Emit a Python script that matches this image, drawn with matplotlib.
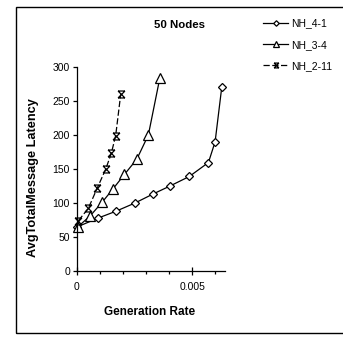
import matplotlib
matplotlib.use("Agg")
from matplotlib import pyplot as plt
from matplotlib.path import Path
from matplotlib.patches import Rectangle
from matplotlib.ticker import MultipleLocator, FuncFormatter

plt.rcParams["font.family"] = ["Liberation Sans", "DejaVu Sans"]

# data
rate_41 = [0.00002, 0.0009, 0.0017, 0.00252, 0.00329, 0.00404, 0.00488, 0.00571, 0.0060, 0.00629]
lat_41 = [65, 77.6, 88, 100, 113, 125, 139, 159.5, 190, 270.5]

rate_34 = [0.00004, 0.00057, 0.00109, 0.00157, 0.00206, 0.0026, 0.0031, 0.0036]
lat_34 = [65, 81, 101, 121, 142, 164.5, 200, 284]

rate_211 = [0.00006, 0.00049, 0.00088, 0.00125, 0.00149, 0.00168, 0.0019]
lat_211 = [74, 92, 122, 150, 173, 199, 260]

series_names = ["NH_4-1", "NH_3-4", "NH_2-11"]

# excel-like star marker: an X with bars on top and bottom
star = Path(
    [(-1, -1), (1, 1), (-1, 1), (1, -1), (-1, 1), (1, 1), (-1, -1), (1, -1)],
    [Path.MOVETO, Path.LINETO, Path.MOVETO, Path.LINETO,
     Path.MOVETO, Path.LINETO, Path.MOVETO, Path.LINETO],
)

fig = plt.figure(figsize=(3.43, 3.37), dpi=100)
ax = fig.add_axes([77 / 343, 1 - 271 / 337, 148 / 343, 204 / 337])

ax.plot(rate_41, lat_41, color="black", lw=0.9, marker="D", ms=4,
        mfc="white", mec="black", mew=0.9, clip_on=False, label=series_names[0])
ax.plot(rate_34, lat_34, color="black", lw=0.9, marker="^", ms=6.5,
        mfc="white", mec="black", mew=0.9, clip_on=False, label=series_names[1])
ax.plot(rate_211, lat_211, color="black", lw=0.9, ls=(0, (5, 2)), marker=star, ms=5,
        mfc="none", mec="black", mew=0.9, clip_on=False, label=series_names[2])

ax.set_xlim(0, 0.00643)
ax.set_ylim(0, 300)
ax.spines["top"].set_visible(False)
ax.spines["right"].set_visible(False)
for s in ["left", "bottom"]:
    ax.spines[s].set_linewidth(0.9)

ax.yaxis.set_major_locator(MultipleLocator(50))
ax.xaxis.set_major_locator(MultipleLocator(0.005))
ax.xaxis.set_minor_locator(MultipleLocator(0.001))
ax.xaxis.set_major_formatter(FuncFormatter(lambda v, p: "0" if v == 0 else f"{v:g}"))
ax.tick_params(axis="y", direction="out", length=3, width=0.9, labelsize=7.5, pad=2)
ax.tick_params(axis="x", which="major", direction="inout", length=6, width=0.9,
               labelsize=7.5, pad=5)
ax.tick_params(axis="x", which="minor", direction="out", length=2.5, width=0.9)

fig.text(149.5 / 343, 1 - 312 / 337, "Generation Rate", ha="center", va="center",
         fontsize=8.5, fontweight="bold")
fig.text(33 / 343, 1 - 177.5 / 337, "AvgTotalMessage Latency", ha="center", va="center",
         rotation=90, fontsize=9.2, fontweight="bold")
fig.text(180 / 343, 1 - 25.5 / 337, "50 Nodes", ha="center", va="center",
         fontsize=8.2, fontweight="bold")

leg = fig.legend(loc="upper left", bbox_to_anchor=(259 / 343, 1 - 14 / 337),
                 frameon=False, fontsize=7.5, handlelength=2.4, handletextpad=0.3,
                 labelspacing=1.1, borderaxespad=0, markerscale=0.7)

fig.patches.append(Rectangle((16 / 343, 1 - 333 / 337), 340 / 343, 326 / 337,
                             transform=fig.transFigure, fill=False,
                             edgecolor="black", lw=1))

fig.savefig("out.png", dpi=100)
